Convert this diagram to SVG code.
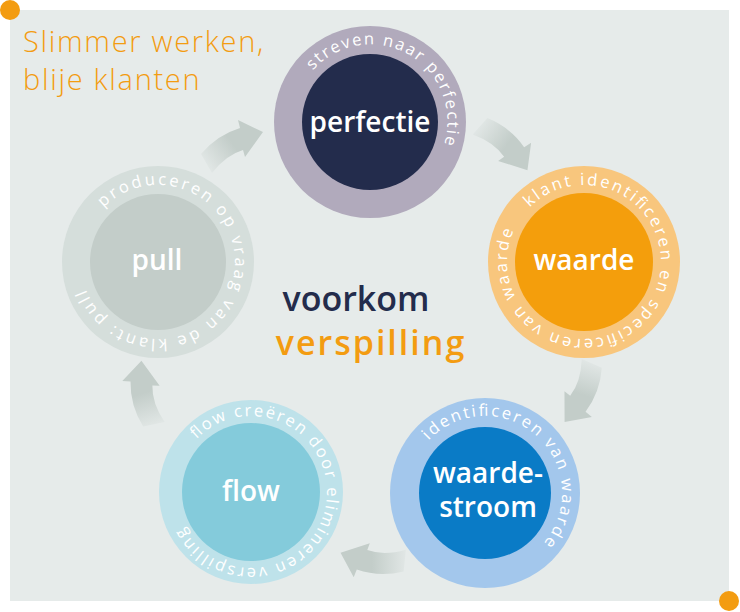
<svg xmlns="http://www.w3.org/2000/svg" xmlns:xlink="http://www.w3.org/1999/xlink" width="740" height="612" viewBox="0 0 740 612">
<style>
.lbl{font-family:"Open Sans","Liberation Sans",sans-serif;font-weight:600;font-size:28px;fill:#ffffff;text-anchor:middle}
.arc{font-family:"Open Sans","Liberation Sans",sans-serif;font-weight:400;font-size:16.5px;fill:#ffffff}
.title{font-family:"Open Sans","Liberation Sans",sans-serif;font-weight:300;font-size:29px;fill:#f39c11;letter-spacing:1.7px}
.mid{font-family:"Open Sans","Liberation Sans",sans-serif;font-weight:600;font-size:34px;text-anchor:middle}
</style>
<defs>
<linearGradient id="ag" gradientUnits="userSpaceOnUse" x1="203" y1="170" x2="252" y2="134">
<stop offset="0" stop-color="#c3cdc9" stop-opacity="0"/>
<stop offset="0.65" stop-color="#c3cdc9" stop-opacity="1"/>
<stop offset="1" stop-color="#c3cdc9" stop-opacity="1"/>
</linearGradient>
<path id="arrow" d="M 201 154 Q 217 135 240 128 L 238 120 L 263 132 L 245 157 L 243 150 Q 226 155 212 173 Z" fill="url(#ag)"/>
<path id="p1" d="M312.78,70.48 A77,77 0 1,1 427.22,173.52 A77,77 0 1,1 312.78,70.48"/>
<path id="p2" d="M529.55,207.55 A77,77 0 1,1 638.45,316.45 A77,77 0 1,1 529.55,207.55"/>
<path id="p3" d="M428.68,440.49 A77,77 0 1,1 541.32,545.51 A77,77 0 1,1 428.68,440.49"/>
<path id="p4" d="M196.33,439.20 A76,76 0 1,1 305.67,544.80 A76,76 0 1,1 196.33,439.20"/>
<path id="p5" d="M103.55,207.55 A77,77 0 1,1 212.45,316.45 A77,77 0 1,1 103.55,207.55"/>
</defs>
<rect x="10" y="10" width="719" height="591" fill="#e6ebea"/>
<circle cx="10" cy="10" r="10" fill="#f39c11"/>
<circle cx="729" cy="601" r="10" fill="#f39c11"/>
<g id="title">
<text class="title" x="23" y="52">Slimmer werken,</text>
<text class="title" x="23" y="90">blije klanten</text>
</g>
<g id="connectors">
<use xlink:href="#arrow"/>
<use xlink:href="#arrow" transform="translate(6,6) rotate(72,370,326)"/>
<use xlink:href="#arrow" transform="translate(-6,2) rotate(144,370,326)"/>
<use xlink:href="#arrow" transform="translate(-2,7) rotate(216,370,326)"/>
<use xlink:href="#arrow" transform="translate(-11,-7) rotate(288,370,326)"/>
</g>
<g id="perfectie">
<circle cx="370" cy="122" r="96" fill="#b1aabc"/>
<circle cx="370" cy="122" r="68" fill="#232c4c"/>
<text class="lbl" x="370" y="132">perfectie</text>
<text class="arc"><textPath xlink:href="#p1" textLength="209" lengthAdjust="spacing">streven naar perfectie</textPath></text>
</g>
<g id="waarde">
<circle cx="584" cy="262" r="96" fill="#f8c67d"/>
<circle cx="584" cy="262" r="69" fill="#f49e0c"/>
<text class="lbl" x="584" y="270">waarde</text>
<text class="arc"><textPath xlink:href="#p2" textLength="455" lengthAdjust="spacing">klant identificeren en specificeren van waarde</textPath></text>
</g>
<g id="waardestroom">
<circle cx="485" cy="493" r="95" fill="#a3c7ec"/>
<circle cx="485" cy="493" r="66" fill="#0a7bc6"/>
<text class="lbl" x="488" y="483">waarde-</text>
<text class="lbl" x="488" y="517">stroom</text>
<text class="arc"><textPath xlink:href="#p3" textLength="238" lengthAdjust="spacing">identificeren van waarde</textPath></text>
</g>
<g id="flow">
<circle cx="251" cy="492" r="92" fill="#bee2ea"/>
<circle cx="251" cy="492" r="69" fill="#84cbdb"/>
<text class="lbl" x="251" y="501">flow</text>
<text class="arc"><textPath xlink:href="#p4" textLength="382" lengthAdjust="spacing">flow creëren door elimineren verspilling</textPath></text>
</g>
<g id="pull">
<circle cx="158" cy="262" r="96" fill="#d5dedb"/>
<circle cx="158" cy="262" r="68" fill="#c3cdc9"/>
<text class="lbl" x="157" y="270">pull</text>
<text class="arc"><textPath xlink:href="#p5" textLength="395" lengthAdjust="spacing">produceren op vraag van de klant: pull</textPath></text>
</g>
<g id="center">
<text class="mid" x="356" y="311" fill="#232c4c">voorkom</text>
<text class="mid" x="371" y="355" fill="#f39c11" style="letter-spacing:2px">verspilling</text>
</g>
</svg>
